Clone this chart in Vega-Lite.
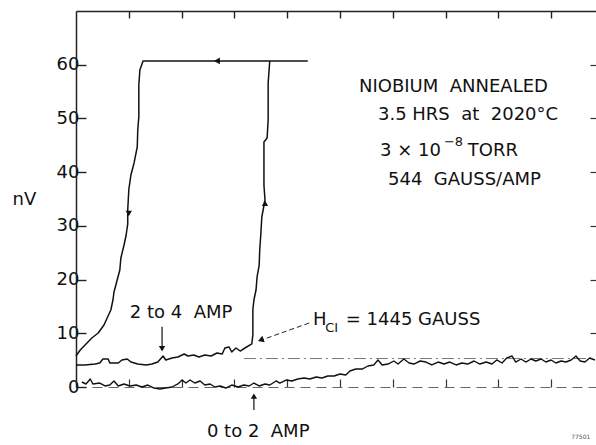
{
  "$schema": "https://vega.github.io/schema/vega-lite/v6.json",
  "width": 520,
  "height": 376,
  "autosize": {"type": "none"},
  "padding": {"left": 76, "top": 11, "right": 0, "bottom": 58},
  "background": "white",
  "config": {"view": {"stroke": null}, "font": "DejaVu Sans"},
  "datasets": {
    "loop": [
      {"i":1,"u":0,"v":4.10},{"i":2,"u":0.17,"v":4.10},{"i":3,"u":0.36,"v":4.28},{"i":4,"u":0.45,"v":4.47},
      {"i":5,"u":0.51,"v":5.21},{"i":6,"u":0.61,"v":5.21},{"i":7,"u":0.64,"v":4.47},{"i":8,"u":0.80,"v":4.47},
      {"i":9,"u":0.87,"v":5.03},{"i":10,"u":0.97,"v":5.21},{"i":11,"u":1.04,"v":4.65},{"i":12,"u":1.17,"v":4.28},
      {"i":13,"u":1.33,"v":4.10},{"i":14,"u":1.44,"v":4.28},{"i":15,"u":1.55,"v":4.65},{"i":16,"u":1.65,"v":5.77},
      {"i":17,"u":1.70,"v":5.03},{"i":18,"u":1.82,"v":5.40},{"i":19,"u":1.93,"v":5.59},{"i":20,"u":2.05,"v":6.14},
      {"i":21,"u":2.12,"v":5.77},{"i":22,"u":2.23,"v":5.96},{"i":23,"u":2.33,"v":5.59},{"i":24,"u":2.44,"v":5.96},
      {"i":25,"u":2.56,"v":5.77},{"i":26,"u":2.67,"v":6.33},{"i":27,"u":2.77,"v":6.14},{"i":28,"u":2.82,"v":7.26},
      {"i":29,"u":2.90,"v":7.45},{"i":30,"u":2.95,"v":6.52},{"i":31,"u":3.03,"v":7.26},{"i":32,"u":3.11,"v":6.70},
      {"i":33,"u":3.20,"v":7.26},{"i":34,"u":3.33,"v":8.01},{"i":35,"u":3.35,"v":9.68},{"i":36,"u":3.35,"v":12.10},
      {"i":37,"u":3.35,"v":14.34},{"i":38,"u":3.37,"v":16.20},{"i":39,"u":3.41,"v":18.06},{"i":40,"u":3.43,"v":20.48},
      {"i":41,"u":3.47,"v":22.71},{"i":42,"u":3.48,"v":25.51},{"i":43,"u":3.50,"v":28.30},{"i":44,"u":3.52,"v":31.65},
      {"i":45,"u":3.58,"v":34.82},{"i":46,"u":3.56,"v":37.61},{"i":47,"u":3.56,"v":40.96},{"i":48,"u":3.56,"v":44.13},
      {"i":49,"u":3.56,"v":45.62},{"i":50,"u":3.62,"v":46.36},{"i":51,"u":3.64,"v":49.71},{"i":52,"u":3.64,"v":53.44},
      {"i":53,"u":3.64,"v":56.60},{"i":54,"u":3.67,"v":60.70},{"i":55,"u":4.38,"v":60.70},{"i":56,"u":1.27,"v":60.70},
      {"i":57,"u":1.21,"v":59.02},{"i":58,"u":1.19,"v":56.23},{"i":59,"u":1.19,"v":53.44},{"i":60,"u":1.19,"v":50.27},
      {"i":61,"u":1.17,"v":47.85},{"i":62,"u":1.16,"v":44.68},{"i":63,"u":1.10,"v":41.71},{"i":64,"u":1.04,"v":39.47},
      {"i":65,"u":1.00,"v":36.68},{"i":66,"u":0.98,"v":32.95},{"i":67,"u":0.98,"v":30.35},{"i":68,"u":0.95,"v":28.30},
      {"i":69,"u":0.91,"v":26.44},{"i":70,"u":0.85,"v":24.02},{"i":71,"u":0.83,"v":21.78},{"i":72,"u":0.78,"v":19.92},
      {"i":73,"u":0.72,"v":17.69},{"i":74,"u":0.70,"v":16.20},{"i":75,"u":0.66,"v":14.34},{"i":76,"u":0.59,"v":12.85},
      {"i":77,"u":0.53,"v":11.54},{"i":78,"u":0.42,"v":10.05},{"i":79,"u":0.30,"v":9.12},{"i":80,"u":0.19,"v":8.01},
      {"i":81,"u":0.08,"v":6.89},{"i":82,"u":0,"v":5.77}
    ],
    "base": [
      {"u":0.11,"v":0.93},{"u":0.19,"v":0.56},{"u":0.27,"v":1.49},{"u":0.32,"v":0.56},{"u":0.45,"v":0.74},
      {"u":0.55,"v":0.19},{"u":0.64,"v":0.37},{"u":0.72,"v":1.12},{"u":0.80,"v":0.19},{"u":0.91,"v":0.56},
      {"u":1.02,"v":0.19},{"u":1.14,"v":0.37},{"u":1.25,"v":0},{"u":1.36,"v":0.37},{"u":1.48,"v":-0.19},
      {"u":1.59,"v":-0.37},{"u":1.70,"v":-0.19},{"u":1.82,"v":0},{"u":1.93,"v":0.56},{"u":2.01,"v":1.30},
      {"u":2.08,"v":0.74},{"u":2.16,"v":1.30},{"u":2.25,"v":0.74},{"u":2.35,"v":1.12},{"u":2.44,"v":0.37},
      {"u":2.54,"v":0.56},{"u":2.63,"v":0},{"u":2.73,"v":0.19},{"u":2.84,"v":-0.19},{"u":2.95,"v":0.37},
      {"u":3.07,"v":0},{"u":3.18,"v":0.37},{"u":3.28,"v":0.19},{"u":3.37,"v":0.74},{"u":3.47,"v":0.19},
      {"u":3.58,"v":0.56},{"u":3.67,"v":0.37},{"u":3.79,"v":1.12},{"u":3.86,"v":0.74},{"u":3.98,"v":1.30},
      {"u":4.09,"v":1.12},{"u":4.20,"v":1.49},{"u":4.32,"v":1.68},{"u":4.43,"v":1.49},{"u":4.55,"v":1.86},
      {"u":4.66,"v":1.68},{"u":4.77,"v":2.05},{"u":4.89,"v":2.05},{"u":5.00,"v":2.42},{"u":5.11,"v":2.23},
      {"u":5.19,"v":2.98},{"u":5.30,"v":3.35},{"u":5.42,"v":3.35},{"u":5.53,"v":3.91},{"u":5.64,"v":4.10},
      {"u":5.72,"v":5.03},{"u":5.80,"v":4.10},{"u":5.91,"v":4.28},{"u":6.02,"v":4.84},{"u":6.10,"v":4.28},
      {"u":6.21,"v":5.21},{"u":6.31,"v":4.47},{"u":6.40,"v":4.28},{"u":6.52,"v":4.84},{"u":6.63,"v":4.65},
      {"u":6.74,"v":4.10},{"u":6.86,"v":4.65},{"u":6.97,"v":4.28},{"u":7.08,"v":4.65},{"u":7.20,"v":4.10},
      {"u":7.31,"v":4.47},{"u":7.42,"v":4.28},{"u":7.54,"v":4.84},{"u":7.65,"v":4.28},{"u":7.77,"v":4.65},
      {"u":7.88,"v":4.28},{"u":7.97,"v":5.03},{"u":8.07,"v":4.47},{"u":8.16,"v":5.40},{"u":8.26,"v":5.77},
      {"u":8.33,"v":4.65},{"u":8.43,"v":5.21},{"u":8.52,"v":4.65},{"u":8.62,"v":5.21},{"u":8.71,"v":4.84},
      {"u":8.81,"v":5.21},{"u":8.90,"v":4.65},{"u":9.00,"v":5.03},{"u":9.09,"v":4.47},{"u":9.19,"v":4.84},
      {"u":9.28,"v":4.65},{"u":9.38,"v":5.03},{"u":9.47,"v":5.77},{"u":9.55,"v":4.84},{"u":9.64,"v":4.65},
      {"u":9.73,"v":5.40},{"u":9.83,"v":5.03}
    ],
    "shafts": [
      {"u":1.63,"v":11.2,"u2":1.63,"v2":7.0},
      {"u":3.37,"v":-4.3,"u2":3.37,"v2":-1.5}
    ],
    "pointer": [{"u":3.47,"v":8.6,"u2":4.47,"v2":12.1}],
    "refline": [{"u":3.18,"u2":9.85,"v":5.3}],
    "headsLeft": [{"u":2.67,"v":60.7}],
    "headsDown": [{"u":1.63,"v":7.1},{"u":1.00,"v":32.3}],
    "headsUp": [{"u":3.37,"v":-1.7},{"u":3.58,"v":34.2}],
    "headsPointer": [{"u":3.50,"v":8.75}],
    "texts": [
      {"label":"NIOBIUM\u00a0\u00a0ANNEALED","u":5.36,"v":55.86},
      {"label":"3.5 HRS\u00a0\u00a0at\u00a0\u00a02020°C","u":5.72,"v":50.64},
      {"label":"3 × 10","u":5.76,"v":44.0},
      {"label":"TORR","u":7.42,"v":43.9},
      {"label":"544\u00a0\u00a0GAUSS/AMP","u":5.91,"v":38.54},
      {"label":"2 to 4\u00a0\u00a0AMP","u":1.02,"v":13.78},
      {"label":"H","u":4.49,"v":12.47},
      {"label":"= 1445 GAUSS","u":5.11,"v":12.47},
      {"label":"0 to 2\u00a0\u00a0AMP","u":2.48,"v":-8.38}
    ],
    "sup": [{"label":"−8","u":6.97,"v":45.6}],
    "sub": [{"label":"CI","u":4.72,"v":10.98}],
    "tag": [{"label":"77501","u":9.38,"v":-9.3}]
  },
  "layer": [
    {
      "data": {"name": "refline"},
      "mark": {"type": "rule", "color": "#777", "strokeWidth": 1, "strokeDash": [12, 4, 2, 4]},
      "encoding": {
        "x": {"field": "u", "type": "quantitative", "scale": {"domain": [0, 9.85], "nice": false, "zero": false}, "axis": null},
        "x2": {"field": "u2"},
        "y": {"field": "v", "type": "quantitative", "scale": {"domain": [0, 70], "nice": false, "zero": false}, "axis": null}
      }
    },
    {
      "data": {"name": "loop"},
      "mark": {"type": "line", "color": "#111", "strokeWidth": 1.5, "strokeJoin": "round"},
      "encoding": {
        "x": {"field": "u", "type": "quantitative", "axis": {"orient": "top", "values": [1,2,3,4,5,6,7,8,9], "labels": false, "tickSize": -7, "tickColor": "#222", "tickWidth": 1.4, "domainColor": "#222", "domainWidth": 1.4, "grid": false, "title": null}},
        "y": {"field": "v", "type": "quantitative", "axis": {"orient": "left", "values": [0,10,20,30,40,50,60], "tickSize": -10, "tickColor": "#222", "tickWidth": 1.4, "domainColor": "#222", "domainWidth": 1.5, "grid": false, "labelFontSize": 18, "labelColor": "#111", "labelPadding": 7, "labelFont": "DejaVu Sans", "title": "nV", "titleAngle": 0, "titleAlign": "left", "titleBaseline": "middle", "titleX": -64, "titleY": 188, "titleFontSize": 18, "titleFontWeight": "normal", "titleColor": "#111", "titleFont": "DejaVu Sans"}},
        "order": {"field": "i", "type": "quantitative"}
      }
    },
    {
      "data": {"name": "base"},
      "mark": {"type": "line", "color": "#111", "strokeWidth": 1.4, "strokeJoin": "round"},
      "encoding": {
        "x": {"field": "u", "type": "quantitative", "axis": {"orient": "bottom", "values": [1,2,3,4,5,6,7,8,9], "labels": false, "tickSize": -8, "tickColor": "#333", "tickWidth": 1.2, "domainColor": "#666", "domainWidth": 1, "domainDash": [10, 6], "grid": false, "title": null}},
        "y": {"field": "v", "type": "quantitative", "axis": {"orient": "right", "values": [10,20,30,40,50,60], "labels": false, "tickSize": -6, "tickColor": "#333", "tickWidth": 1.2, "domain": false, "grid": false, "title": null}}
      }
    },
    {
      "data": {"name": "shafts"},
      "mark": {"type": "rule", "color": "#111", "strokeWidth": 1.2},
      "encoding": {
        "x": {"field": "u", "type": "quantitative", "axis": null},
        "x2": {"field": "u2"},
        "y": {"field": "v", "type": "quantitative", "axis": null},
        "y2": {"field": "v2"}
      }
    },
    {
      "data": {"name": "pointer"},
      "mark": {"type": "rule", "color": "#222", "strokeWidth": 1, "strokeDash": [5, 3]},
      "encoding": {
        "x": {"field": "u", "type": "quantitative", "axis": null},
        "x2": {"field": "u2"},
        "y": {"field": "v", "type": "quantitative", "axis": null},
        "y2": {"field": "v2"}
      }
    },
    {
      "data": {"name": "headsLeft"},
      "mark": {"type": "point", "shape": "triangle-left", "filled": true, "color": "#111", "size": 45, "opacity": 1},
      "encoding": {"x": {"field": "u", "type": "quantitative", "axis": null}, "y": {"field": "v", "type": "quantitative", "axis": null}}
    },
    {
      "data": {"name": "headsDown"},
      "mark": {"type": "point", "shape": "triangle-down", "filled": true, "color": "#111", "size": 40, "opacity": 1},
      "encoding": {"x": {"field": "u", "type": "quantitative", "axis": null}, "y": {"field": "v", "type": "quantitative", "axis": null}}
    },
    {
      "data": {"name": "headsUp"},
      "mark": {"type": "point", "shape": "triangle-up", "filled": true, "color": "#111", "size": 40, "opacity": 1},
      "encoding": {"x": {"field": "u", "type": "quantitative", "axis": null}, "y": {"field": "v", "type": "quantitative", "axis": null}}
    },
    {
      "data": {"name": "headsPointer"},
      "mark": {"type": "point", "shape": "triangle-left", "filled": true, "color": "#111", "size": 45, "opacity": 1, "angle": 340},
      "encoding": {"x": {"field": "u", "type": "quantitative", "axis": null}, "y": {"field": "v", "type": "quantitative", "axis": null}}
    },
    {
      "data": {"name": "texts"},
      "mark": {"type": "text", "align": "left", "baseline": "middle", "fontSize": 18, "font": "DejaVu Sans", "color": "#111"},
      "encoding": {"x": {"field": "u", "type": "quantitative", "axis": null}, "y": {"field": "v", "type": "quantitative", "axis": null}, "text": {"field": "label"}}
    },
    {
      "data": {"name": "sup"},
      "mark": {"type": "text", "align": "left", "baseline": "middle", "fontSize": 13, "font": "DejaVu Sans", "color": "#111"},
      "encoding": {"x": {"field": "u", "type": "quantitative", "axis": null}, "y": {"field": "v", "type": "quantitative", "axis": null}, "text": {"field": "label"}}
    },
    {
      "data": {"name": "sub"},
      "mark": {"type": "text", "align": "left", "baseline": "middle", "fontSize": 13, "font": "DejaVu Sans", "color": "#111"},
      "encoding": {"x": {"field": "u", "type": "quantitative", "axis": null}, "y": {"field": "v", "type": "quantitative", "axis": null}, "text": {"field": "label"}}
    },
    {
      "data": {"name": "tag"},
      "mark": {"type": "text", "align": "left", "baseline": "middle", "fontSize": 6, "font": "DejaVu Sans", "color": "#555"},
      "encoding": {"x": {"field": "u", "type": "quantitative", "axis": null}, "y": {"field": "v", "type": "quantitative", "axis": null}, "text": {"field": "label"}}
    }
  ],
  "resolve": {"axis": {"x": "independent", "y": "independent"}}
}
